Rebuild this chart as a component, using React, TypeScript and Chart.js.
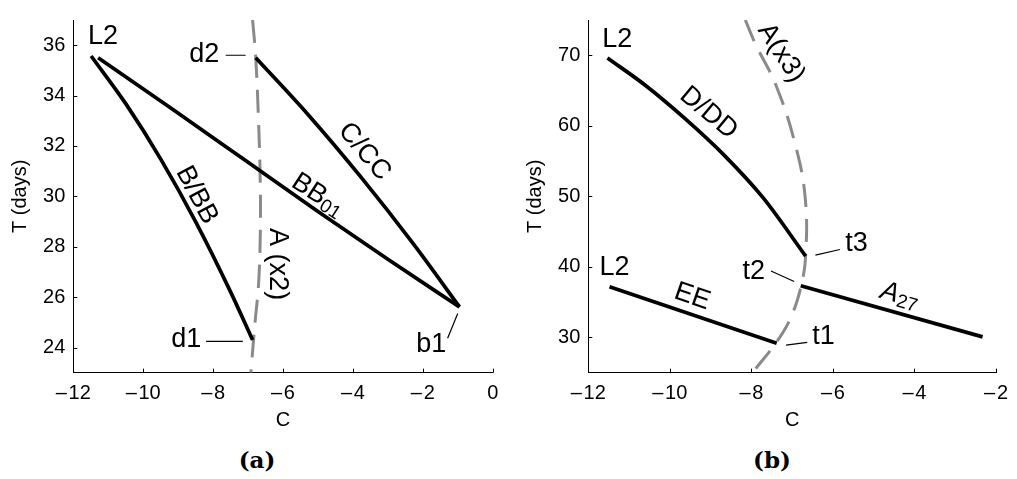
import React, { useEffect, useRef } from 'react';
import { Chart, registerables } from 'chart.js';
Chart.register(...registerables);

// ---------------- Panel (a) data ----------------
const xTicksA = [-12, -10, -8, -6, -4, -2, 0];
const yTicksA = [24, 26, 28, 30, 32, 34, 36];
const bbC = [-11.49, -10.49, -9.49, -8.49, -7.49, -6.87];
const bbT = [35.57, 33.66, 31.46, 28.97, 26.18, 24.3];
const bb01C = [-11.29, -9.15, -7.0, -5.0, -3.0, -0.95];
const bb01T = [35.5, 33.45, 31.35, 29.4, 27.5, 25.61];
const ccC = [-6.78, -5.28, -3.78, -2.28, -0.95];
const ccT = [35.5, 33.24, 30.78, 28.13, 25.61];
const ax2C = [-6.87, -6.78, -6.7, -6.65, -6.65, -6.7, -6.8, -6.92];
const ax2T = [37.0, 35.5, 33.0, 30.5, 28.5, 26.5, 25.0, 23.0];
const leadD2C = [-7.64, -7.07];
const leadD2T = [35.6, 35.6];
const leadD1C = [-8.2, -7.15];
const leadD1T = [24.24, 24.24];
const leadB1C = [-1.29, -1.0];
const leadB1T = [24.37, 25.35];
const labelTextA = ['L2', 'd2', 'd1', 'b1', 'B/BB', 'C/CC', 'BB', 'A (x2)'];
const labelSubA = ['', '', '', '', '', '', '01', ''];
const labelItalicA = [false, false, false, false, false, false, false, false];
const labelCA = [-11.15, -8.25, -8.77, -1.76, -8.47, -3.67, -5.0, -6.17];
const labelTA = [36.33, 35.64, 24.3, 24.11, 30.05, 31.78, 30.05, 27.31];
const labelAngleA = [0, 0, 0, 0, 62, 50, 33, 90];

// ---------------- Panel (b) data ----------------
const xTicksB = [-12, -10, -8, -6, -4, -2];
const yTicksB = [30, 40, 50, 60, 70];
const ddC = [-11.53, -10.58, -9.62, -8.67, -7.71, -6.67];
const ddT = [69.62, 65.65, 60.98, 55.85, 49.78, 41.52];
const eeC = [-11.48, -7.38];
const eeT = [37.18, 29.16];
const a27C = [-6.79, -2.33];
const a27T = [37.32, 30.08];
const ax3C = [-8.15, -7.9, -7.39, -6.92, -6.68, -6.67, -6.79, -7.03, -7.35, -7.98];
const ax3T = [75.0, 71.6, 65.65, 57.25, 49.78, 41.5, 37.08, 32.88, 29.62, 24.96];
const leadT3C = [-6.43, -5.83];
const leadT3T = [41.66, 42.46];
const leadT2C = [-7.52, -6.95];
const leadT2T = [39.42, 37.92];
const leadT1C = [-7.15, -6.63];
const leadT1T = [28.92, 29.3];
const labelTextB = ['L2', 'L2', 'D/DD', 'EE', 'A', 't3', 't2', 't1', 'A(x3)'];
const labelSubB = ['', '', '', '', '27', '', '', '', ''];
const labelItalicB = [false, false, false, false, true, false, false, false, false];
const labelCB = [-11.29, -11.36, -9.05, -9.45, -4.36, -5.42, -7.94, -6.23, -7.27];
const labelTB = [72.18, 39.88, 61.82, 35.78, 35.92, 43.38, 39.32, 30.08, 70.32];
const labelAngleB = [0, 0, 40, 19, 16, 0, 0, 0, 57];

const FONT = "'Liberation Sans', Arial, Helvetica, sans-serif";

const pts = (xs: number[], ys: number[]) => xs.map((x, i) => ({ x, y: ys[i] }));

const solid = (xs: number[], ys: number[], smooth = true) => ({
  data: pts(xs, ys), showLine: true, borderColor: '#000', borderWidth: 3.7,
  pointRadius: 0, tension: smooth ? 0.4 : 0,
  cubicInterpolationMode: smooth ? 'monotone' : 'default',
  borderCapStyle: 'butt', borderJoinStyle: 'round', fill: false,
});
const leader = (xs: number[], ys: number[]) => ({
  data: pts(xs, ys), showLine: true, borderColor: '#000', borderWidth: 1.2,
  pointRadius: 0, tension: 0, fill: false,
});
const dashed = (xs: number[], ys: number[]) => ({
  data: pts(xs, ys), showLine: true, borderColor: '#8a8a8a', borderWidth: 3,
  borderDash: [23, 12], pointRadius: 0, tension: 0.4, fill: false, borderCapStyle: 'butt',
});

const fmt = (v: number) => (v < 0 ? '\u2013\u200A' + Math.abs(v) : String(v));

const inwardTicks = {
  id: 'inwardTicks',
  afterDraw(chart: any) {
    const { ctx, chartArea, scales } = chart;
    ctx.save();
    ctx.strokeStyle = '#000';
    ctx.lineWidth = 1;
    ctx.beginPath();
    scales.x.ticks.forEach((t: any) => {
      const px = Math.round(scales.x.getPixelForValue(t.value)) + 0.5;
      ctx.moveTo(px, chartArea.bottom);
      ctx.lineTo(px, chartArea.bottom - 4);
    });
    scales.y.ticks.forEach((t: any) => {
      const py = Math.round(scales.y.getPixelForValue(t.value)) + 0.5;
      ctx.moveTo(chartArea.left, py);
      ctx.lineTo(chartArea.left + 4, py);
    });
    ctx.stroke();
    ctx.restore();
  },
};

const makeLabelPlugin = (texts: string[], subs: string[], italics: boolean[], cs: number[], ts: number[], angles: number[]) => ({
  id: 'textLabels',
  afterDatasetsDraw(chart: any) {
    const { ctx, scales } = chart;
    ctx.save();
    ctx.fillStyle = '#000';
    ctx.textBaseline = 'middle';
    ctx.textAlign = 'left';
    texts.forEach((txt, i) => {
      const px = scales.x.getPixelForValue(cs[i]);
      const py = scales.y.getPixelForValue(ts[i]);
      const mainFont = (italics[i] ? 'italic ' : '') + '27px ' + FONT;
      const subFont = '19px ' + FONT;
      ctx.font = mainFont;
      const w1 = ctx.measureText(txt).width;
      let w2 = 0;
      if (subs[i]) { ctx.font = subFont; w2 = ctx.measureText(subs[i]).width; }
      const total = w1 + w2;
      ctx.save();
      ctx.translate(px, py);
      ctx.rotate((angles[i] * Math.PI) / 180);
      ctx.font = mainFont;
      ctx.fillText(txt, -total / 2, 0);
      if (subs[i]) {
        ctx.font = subFont;
        ctx.fillText(subs[i], -total / 2 + w1, 6);
      }
      ctx.restore();
    });
    ctx.restore();
  },
});

interface Spec {
  datasets: any[];
  xMin: number; xMax: number; yMin: number; yMax: number;
  xTicks: number[]; yTicks: number[];
  yAxisW: number; padRight: number; yTitlePad: number;
  labelPlugin: any;
}

const H = 440;
const PLOT_BOTTOM = 372.7;
const PLOT_TOP = 16;

const buildConfig = (s: Spec): any => ({
  type: 'scatter',
  data: { datasets: s.datasets },
  options: {
    responsive: false,
    animation: false,
    devicePixelRatio: 1,
    layout: { padding: { left: 0, right: s.padRight, top: PLOT_TOP, bottom: 0 } },
    plugins: { legend: { display: false }, tooltip: { enabled: false } },
    scales: {
      x: {
        type: 'linear', min: s.xMin, max: s.xMax,
        afterBuildTicks: (sc: any) => { sc.ticks = s.xTicks.map((v) => ({ value: v })); },
        afterFit: (sc: any) => { sc.height = H - PLOT_BOTTOM; },
        grid: { display: false, drawTicks: false },
        border: { display: true, color: '#000', width: 1 },
        ticks: { padding: 9, color: '#000', font: { family: FONT, size: 20 }, maxRotation: 0, autoSkip: false, callback: (v: number) => fmt(v) },
        title: { display: true, text: 'C', color: '#000', font: { family: FONT, size: 20 }, padding: { top: 0, bottom: 7.3 } },
      },
      y: {
        type: 'linear', min: s.yMin, max: s.yMax,
        afterBuildTicks: (sc: any) => { sc.ticks = s.yTicks.map((v) => ({ value: v })); },
        afterFit: (sc: any) => { sc.width = s.yAxisW; },
        grid: { display: false, drawTicks: false },
        border: { display: true, color: '#000', width: 1 },
        ticks: { padding: 8, color: '#000', font: { family: FONT, size: 20 }, autoSkip: false, callback: (v: number) => fmt(v) },
        title: { display: true, text: 'T (days)', color: '#000', font: { family: FONT, size: 20 }, padding: { top: s.yTitlePad, bottom: 0 } },
      },
    },
  },
  plugins: [inwardTicks, s.labelPlugin],
});

const specA: Spec = {
  datasets: [
    solid(bbC, bbT), solid(bb01C, bb01T), solid(ccC, ccT),
    leader(leadD2C, leadD2T), leader(leadD1C, leadD1T), leader(leadB1C, leadB1T),
    dashed(ax2C, ax2T),
  ],
  xMin: -12, xMax: 0, yMin: 23, yMax: 37,
  xTicks: xTicksA, yTicks: yTicksA,
  yAxisW: 73.3, padRight: 510 - 492.7, yTitlePad: 8.7,
  labelPlugin: makeLabelPlugin(labelTextA, labelSubA, labelItalicA, labelCA, labelTA, labelAngleA),
};

const specB: Spec = {
  datasets: [
    solid(ddC, ddT), solid(eeC, eeT, false), solid(a27C, a27T, false),
    leader(leadT3C, leadT3T), leader(leadT2C, leadT2T), leader(leadT1C, leadT1T),
    dashed(ax3C, ax3T),
  ],
  xMin: -12, xMax: -2, yMin: 25, yMax: 75,
  xTicks: xTicksB, yTicks: yTicksB,
  yAxisW: 78.3, padRight: 507 - 497.3, yTitlePad: 13,
  labelPlugin: makeLabelPlugin(labelTextB, labelSubB, labelItalicB, labelCB, labelTB, labelAngleB),
};

function Panel({ spec, left, width }: { spec: Spec; left: number; width: number }) {
  const ref = useRef<HTMLCanvasElement>(null);
  useEffect(() => {
    if (!ref.current) return;
    const chart = new Chart(ref.current, buildConfig(spec));
    return () => chart.destroy();
  }, [spec]);
  return (
    <canvas
      ref={ref}
      width={width}
      height={H}
      style={{ position: 'absolute', left, top: 0, width, height: H }}
    />
  );
}

const captionStyle = (left: number, width: number): React.CSSProperties => ({
  position: 'absolute', left, top: 445, width, textAlign: 'center',
  fontFamily: "'DejaVu Serif', 'Liberation Serif', serif", fontWeight: 'bold',
  fontSize: 23, lineHeight: '30px', color: '#000',
});

export default function App() {
  return (
    <div style={{ position: 'absolute', left: 0, top: 0, width: 1017, height: 479, background: '#fff', overflow: 'hidden' }}>
      <Panel spec={specA} left={0} width={510} />
      <Panel spec={specB} left={510} width={507} />
      <div style={captionStyle(0, 514)}>(a)</div>
      <div style={captionStyle(510, 524)}>(b)</div>
    </div>
  );
}
